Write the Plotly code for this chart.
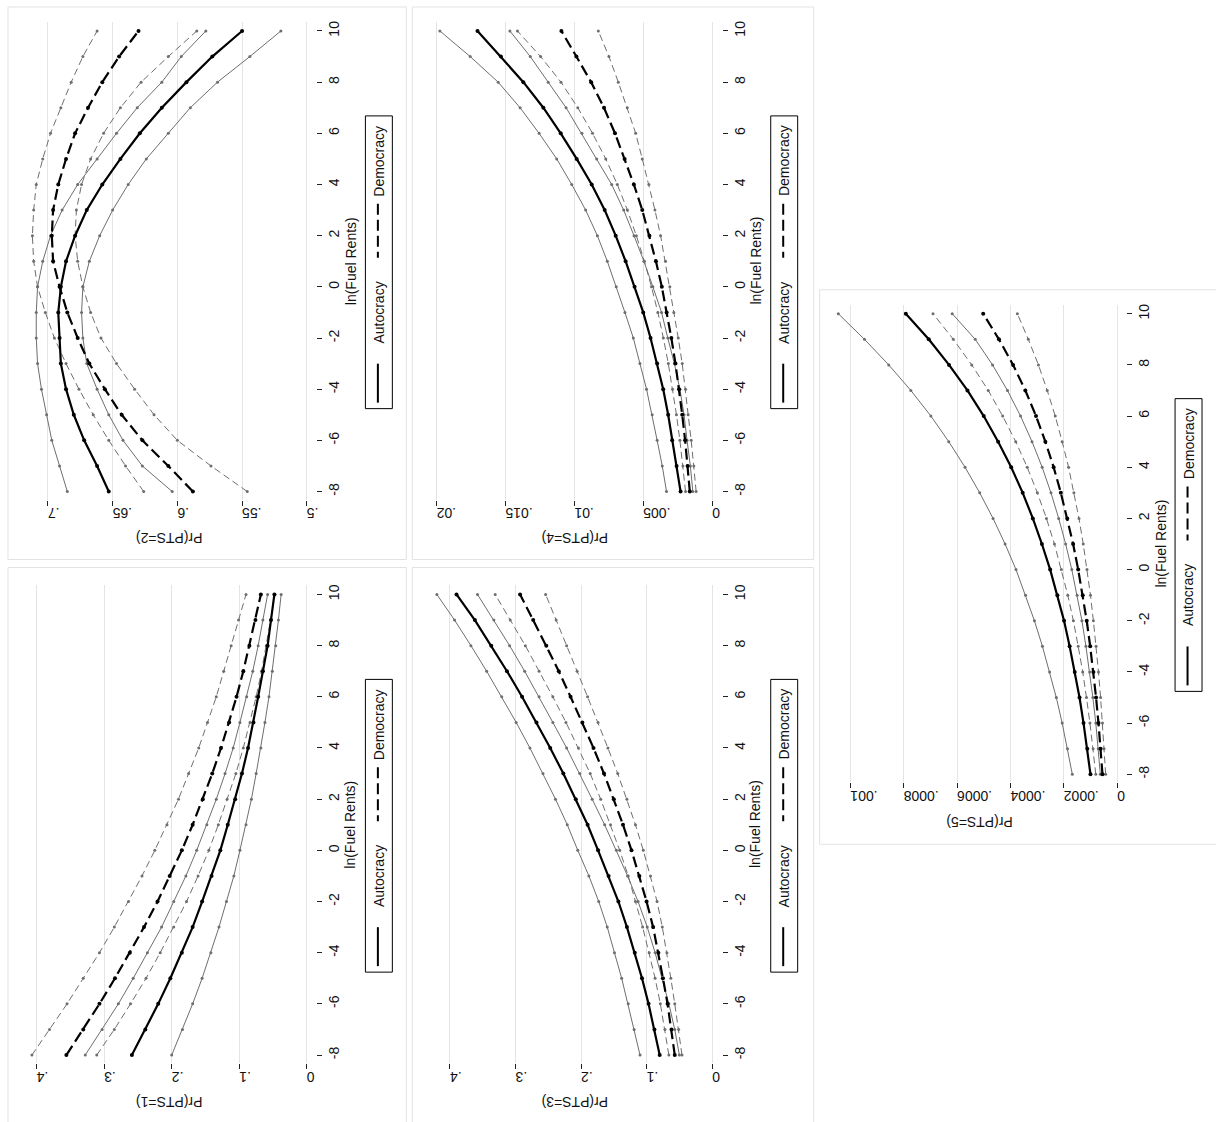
import plotly.graph_objects as go

W, H = 1216, 1122

ln_rents = list(range(-8, 11))
ln_ticks = list(range(-8, 11, 2))
ln_ticktext = [str(v) for v in ln_ticks]

# ---------------- PTS = 1 ----------------
pts1_auto    = [.259, .239, .220, .202, .185, .169, .155, .141, .128, .117, .106, .096, .087, .079, .072, .065, .058, .053, .048]
pts1_auto_hi = [.328, .303, .279, .257, .236, .215, .197, .179, .163, .148, .134, .121, .109, .099, .089, .080, .072, .065, .058]
pts1_auto_lo = [.200, .184, .169, .155, .142, .130, .119, .108, .099, .090, .082, .075, .068, .062, .056, .051, .046, .042, .038]
pts1_demo    = [.356, .331, .307, .284, .262, .241, .221, .203, .185, .169, .154, .140, .127, .115, .104, .094, .085, .076, .068]
pts1_demo_hi = [.407, .381, .355, .331, .307, .285, .264, .244, .225, .207, .190, .175, .160, .147, .134, .123, .112, .101, .090]
pts1_demo_lo = [.311, .285, .261, .238, .217, .197, .178, .161, .145, .131, .118, .105, .094, .084, .075, .067, .060, .053, .047]
pts1_ticks = [0, .1, .2, .3, .4]
pts1_ticktext = ["0", ".1", ".2", ".3", ".4"]

# ---------------- PTS = 2 ----------------
pts2_auto    = [.653, .662, .672, .680, .686, .690, .691, .692, .690, .686, .679, .670, .658, .644, .629, .612, .593, .573, .550]
pts2_auto_hi = [.685, .691, .697, .701, .705, .708, .709, .709, .708, .704, .698, .689, .677, .662, .647, .631, .612, .597, .578]
pts2_auto_lo = [.604, .627, .642, .653, .662, .670, .673, .674, .673, .668, .660, .650, .638, .624, .607, .590, .569, .544, .520]
pts2_demo    = [.588, .607, .627, .643, .656, .668, .677, .685, .691, .696, .697, .696, .692, .686, .679, .669, .658, .645, .630]
pts2_demo_hi = [.626, .640, .653, .665, .676, .686, .695, .702, .708, .711, .712, .711, .709, .704, .698, .690, .682, .673, .662]
pts2_demo_lo = [.546, .574, .600, .618, .633, .647, .659, .667, .673, .677, .679, .678, .674, .667, .657, .644, .628, .607, .585]
pts2_ticks = [.5, .55, .6, .65, .7]
pts2_ticktext = [".5", ".55", ".6", ".65", ".7"]

# ---------------- PTS = 3 ----------------
pts3_auto    = [.080, .088, .097, .107, .118, .130, .143, .158, .174, .190, .208, .227, .247, .268, .290, .313, .337, .362, .390]
pts3_auto_hi = [.110, .119, .128, .138, .149, .160, .173, .188, .205, .221, .239, .258, .278, .299, .321, .344, .368, .393, .420]
pts3_auto_lo = [.050, .057, .066, .076, .087, .099, .113, .129, .146, .164, .183, .202, .222, .243, .264, .286, .309, .333, .358]
pts3_demo    = [.057, .062, .068, .075, .082, .090, .100, .111, .123, .136, .150, .165, .181, .198, .216, .234, .253, .273, .293]
pts3_demo_hi = [.066, .072, .079, .087, .096, .106, .117, .128, .141, .155, .170, .186, .204, .223, .243, .264, .285, .308, .331]
pts3_demo_lo = [.046, .051, .057, .063, .069, .076, .084, .094, .105, .117, .130, .144, .159, .174, .190, .206, .222, .238, .254]
pts3_ticks = [0, .1, .2, .3, .4]
pts3_ticktext = ["0", ".1", ".2", ".3", ".4"]

# ---------------- PTS = 4 ----------------
pts4_auto    = [.00229, .00258, .00290, .00319, .00355, .00399, .00447, .00500, .00563, .00628, .00700, .00780, .00874, .00983, .01099, .01225, .01370, .01533, .01703]
pts4_auto_hi = [.00331, .00362, .00399, .00435, .00476, .00524, .00572, .00633, .00696, .00761, .00833, .00918, .01019, .01128, .01256, .01394, .01553, .01756, .01976]
pts4_auto_lo = [.00140, .00158, .00182, .00204, .00234, .00274, .00322, .00367, .00430, .00495, .00567, .00642, .00729, .00838, .00945, .01060, .01190, .01320, .01468]
pts4_demo    = [.00162, .00178, .00196, .00217, .00240, .00266, .00296, .00330, .00365, .00408, .00455, .00507, .00568, .00635, .00705, .00785, .00878, .00985, .01094]
pts4_demo_hi = [.00193, .00212, .00234, .00259, .00287, .00318, .00354, .00394, .00440, .00492, .00550, .00615, .00688, .00772, .00868, .00975, .01097, .01245, .01413]
pts4_demo_lo = [.00116, .00133, .00152, .00174, .00193, .00217, .00246, .00278, .00307, .00338, .00374, .00415, .00459, .00507, .00555, .00616, .00681, .00749, .00826]
pts4_ticks = [0, .005, .01, .015, .02]
pts4_ticktext = ["0", ".005", ".01", ".015", ".02"]

# ---------------- PTS = 5 ----------------
pts5_auto    = [.000100, .000112, .000126, .000141, .000159, .000178, .000199, .000224, .000251, .000282, .000316, .000354, .000397, .000446, .000500, .000561, .000630, .000706, .000792]
pts5_auto_hi = [.000168, .000186, .000206, .000228, .000253, .000280, .000310, .000343, .000379, .000420, .000465, .000515, .000570, .000631, .000698, .000773, .000856, .000947, .001045]
pts5_auto_lo = [.000063, .000071, .000080, .000091, .000103, .000117, .000132, .000150, .000170, .000193, .000219, .000248, .000281, .000319, .000362, .000411, .000467, .000532, .000618]
pts5_demo    = [.000055, .000062, .000070, .000079, .000089, .000101, .000114, .000129, .000146, .000165, .000187, .000211, .000238, .000269, .000304, .000344, .000390, .000443, .000502]
pts5_demo_hi = [.000080, .000090, .000102, .000115, .000129, .000146, .000164, .000185, .000209, .000235, .000265, .000299, .000337, .000380, .000429, .000483, .000545, .000614, .000690]
pts5_demo_lo = [.000043, .000049, .000055, .000062, .000070, .000079, .000089, .000100, .000113, .000127, .000143, .000162, .000182, .000206, .000232, .000262, .000295, .000333, .000374]
pts5_ticks = [0, .0002, .0004, .0006, .0008, .001]
pts5_ticktext = ["0", ".0002", ".0004", ".0006", ".0008", ".001"]

series_labels = ["Autocracy", "Democracy"]

# ---------------- layout geometry (pixels) ----------------
COLS = {0: (22, 317), 1: (428, 723), 2: (833, 1128)}
ROWS = {"top": (21, 499), "bottom": (585, 1063), "mid": (304, 782)}
PANEL_X = {0: (8, 407), 1: (413, 815), 2: (821, 1220)}
PANEL_Y = {"top": (6, 559), "bottom": (567, 1130), "mid": (289, 844)}
LN_RANGE = [-8.313, 10.351]

panels = [
    dict(title="Pr(PTS=1)", col=0, row="bottom", rng=[.42173, -.01434], ticks=pts1_ticks, ticktext=pts1_ticktext,
         auto=pts1_auto, auto_hi=pts1_auto_hi, auto_lo=pts1_auto_lo, demo=pts1_demo, demo_hi=pts1_demo_hi, demo_lo=pts1_demo_lo),
    dict(title="Pr(PTS=2)", col=0, row="top", rng=[.72005, .49252], ticks=pts2_ticks, ticktext=pts2_ticktext,
         auto=pts2_auto, auto_hi=pts2_auto_hi, auto_lo=pts2_auto_lo, demo=pts2_demo, demo_hi=pts2_demo_hi, demo_lo=pts2_demo_lo),
    dict(title="Pr(PTS=3)", col=1, row="bottom", rng=[.43458, -.014775], ticks=pts3_ticks, ticktext=pts3_ticktext,
         auto=pts3_auto, auto_hi=pts3_auto_hi, auto_lo=pts3_auto_lo, demo=pts3_demo, demo_hi=pts3_demo_hi, demo_lo=pts3_demo_lo),
    dict(title="Pr(PTS=4)", col=1, row="top", rng=[.020674, -.000703], ticks=pts4_ticks, ticktext=pts4_ticktext,
         auto=pts4_auto, auto_hi=pts4_auto_hi, auto_lo=pts4_auto_lo, demo=pts4_demo, demo_hi=pts4_demo_hi, demo_lo=pts4_demo_lo),
    dict(title="Pr(PTS=5)", col=2, row="mid", rng=[.00107, -.0000337], ticks=pts5_ticks, ticktext=pts5_ticktext,
         auto=pts5_auto, auto_hi=pts5_auto_hi, auto_lo=pts5_auto_lo, demo=pts5_demo, demo_hi=pts5_demo_hi, demo_lo=pts5_demo_lo),
]

FONT = "Liberation Sans, Arial, Helvetica, sans-serif"
THIN = "#6e6e6e"
TXT = "#111"


def px(x):
    return x / W


def py(y):
    return 1 - y / H


fig = go.Figure()
shapes = []
annotations = []

for i, p in enumerate(panels, start=1):
    xa = "x" if i == 1 else f"x{i}"
    ya = "y" if i == 1 else f"y{i}"
    x0, x1 = COLS[p["col"]]
    y0, y1 = ROWS[p["row"]]

    lines = [
        (p["auto_hi"], "solid", THIN, 1, 3),
        (p["auto_lo"], "solid", THIN, 1, 3),
        (p["demo_hi"], "7px,4px", THIN, 1, 3),
        (p["demo_lo"], "7px,4px", THIN, 1, 3),
        (p["auto"], "solid", "#000000", 2.2, 4),
        (p["demo"], "11px,5px", "#000000", 2.2, 4),
    ]
    for vals, dash, color, width, msize in lines:
        fig.add_trace(go.Scatter(
            x=vals, y=ln_rents, xaxis=xa, yaxis=ya, mode="lines+markers",
            line=dict(color=color, width=width, dash=dash),
            marker=dict(color=color, size=msize, symbol="circle"),
            showlegend=False, hoverinfo="skip"))

    xkey = "xaxis" if i == 1 else f"xaxis{i}"
    ykey = "yaxis" if i == 1 else f"yaxis{i}"
    fig.update_layout({
        xkey: dict(domain=[px(x0), px(x1)], range=p["rng"], anchor=ya,
                   tickvals=p["ticks"], ticktext=p["ticktext"], tickangle=180,
                   ticks="outside", ticklen=5, tickcolor="#222", tickwidth=1,
                   showgrid=True, gridcolor="#e4e4e4", gridwidth=1,
                   zeroline=False, showline=False,
                   tickfont=dict(family=FONT, size=14, color=TXT)),
        ykey: dict(domain=[py(y1), py(y0)], range=LN_RANGE, anchor=xa, side="right",
                   tickvals=ln_ticks, ticktext=ln_ticktext, tickangle=-90,
                   ticks="outside", ticklen=5, tickcolor="#222", tickwidth=1,
                   showgrid=False, zeroline=False, showline=False,
                   tickfont=dict(family=FONT, size=14, color=TXT)),
    })

    # panel outer border
    bx0, bx1 = PANEL_X[p["col"]]
    by0, by1 = PANEL_Y[p["row"]]
    shapes.append(dict(type="rect", xref="paper", yref="paper",
                       x0=px(bx0), x1=px(bx1), y0=py(by1), y1=py(by0),
                       line=dict(color="#e2e2e2", width=1), fillcolor="rgba(0,0,0,0)", layer="below"))

    # axis titles
    annotations.append(dict(text=p["title"], xref="paper", yref="paper",
                            x=px((x0 + x1) / 2), y=py(y1 + 39), textangle=180,
                            showarrow=False, font=dict(family=FONT, size=14, color=TXT),
                            xanchor="center", yanchor="middle"))
    annotations.append(dict(text="ln(Fuel Rents)", xref="paper", yref="paper",
                            x=px(x1 + 34), y=py((y0 + y1) / 2), textangle=-90,
                            showarrow=False, font=dict(family=FONT, size=14, color=TXT),
                            xanchor="center", yanchor="middle"))

    # legend (rotated)
    lx0, lx1 = x1 + 49, x1 + 76
    ly0, ly1 = y0 + 94, y0 + 387
    lxc = (lx0 + lx1) / 2
    shapes.append(dict(type="rect", xref="paper", yref="paper",
                       x0=px(lx0), x1=px(lx1), y0=py(ly1), y1=py(ly0),
                       line=dict(color="#000", width=1), fillcolor="white"))
    shapes.append(dict(type="line", xref="paper", yref="paper",
                       x0=px(lxc - 1), x1=px(lxc - 1), y0=py(y0 + 342), y1=py(y0 + 381),
                       line=dict(color="#000", width=2)))
    shapes.append(dict(type="line", xref="paper", yref="paper",
                       x0=px(lxc - 1), x1=px(lxc - 1), y0=py(y0 + 182), y1=py(y0 + 236),
                       line=dict(color="#000", width=2, dash="11px,5px")))
    annotations.append(dict(text=series_labels[0], xref="paper", yref="paper",
                            x=px(lxc), y=py(y0 + 291), textangle=-90, showarrow=False,
                            font=dict(family=FONT, size=14, color=TXT),
                            xanchor="center", yanchor="middle"))
    annotations.append(dict(text=series_labels[1], xref="paper", yref="paper",
                            x=px(lxc), y=py(y0 + 139), textangle=-90, showarrow=False,
                            font=dict(family=FONT, size=14, color=TXT),
                            xanchor="center", yanchor="middle"))

fig.update_layout(width=W, height=H, margin=dict(l=0, r=0, t=0, b=0),
                  paper_bgcolor="white", plot_bgcolor="white",
                  shapes=shapes, annotations=annotations, showlegend=False)

fig.write_html("out.html")
